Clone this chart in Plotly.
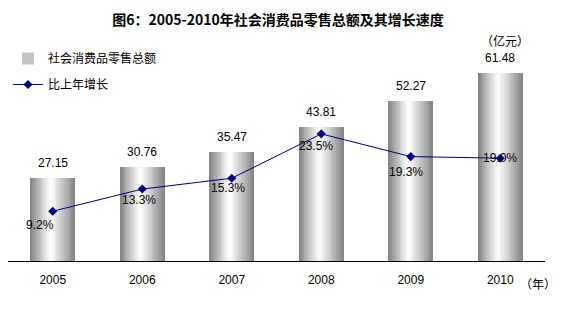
import plotly.graph_objects as go

years = ["2005", "2006", "2007", "2008", "2009", "2010"]
sales = [27.15, 30.76, 35.47, 43.81, 52.27, 61.48]
growth = [9.2, 13.3, 15.3, 23.5, 19.3, 19.0]
growth_labels = ["9.2%", "13.3%", "15.3%", "23.5%", "19.3%", "19.0%"]
# label offsets (pixels) relative to each point
label_dx = [-13, -3, -4, -5, -5, 0]
label_dy = [-14, -11, -10, -12, -15, 0]

title = "图6：2005-2010年社会消费品零售总额及其增长速度"
bar_name = "社会消费品零售总额"
line_name = "比上年增长"

FONT = "Arial, 'Liberation Sans', 'Noto Sans CJK SC', sans-serif"
CJK = "'Noto Sans CJK SC', sans-serif"

W, H = 564, 312
ml, mr, mt, mb = 8, 19, 40, 51
ph = H - mt - mb
pw = W - ml - mr
R1 = ph / 3.065
R2 = ph / 5.41

fig = go.Figure()

# cylinder-like gradient bars made from thin slices
N = 24
bw = 0.5
peak = 0.45
def shade(t):
    d = abs(t - peak) / (peak if t < peak else 1 - peak)
    lo = 0x80
    v = int(round(255 - (255 - lo) * d ** 1.1))
    return f"rgb({v},{v},{v})"

for i in range(N):
    t = (i + 0.5) / N
    fig.add_trace(go.Bar(
        x=years, y=sales, width=bw / N + 0.002, offset=-bw / 2 + i * bw / N,
        marker=dict(color=shade(t), line=dict(width=0)),
        name=bar_name, showlegend=(i == 5), legendgroup="a", legendrank=1,
        hoverinfo="skip", yaxis="y"))

fig.add_trace(go.Scatter(
    x=years, y=growth, mode="lines+markers", name=line_name,
    line=dict(color="#000080", width=1),
    marker=dict(symbol="diamond", size=7, color="#000080"),
    yaxis="y2", legendgroup="b", legendrank=2))

annotations = []
for k, v in enumerate(sales):
    annotations.append(dict(x=k, y=v, xref="x", yref="y", text=f"{v:.2f}",
                            showarrow=False, yshift=15, xanchor="center", yanchor="middle",
                            font=dict(size=12, family=FONT, color="black")))
for k, (g, lab, dx, dy) in enumerate(zip(growth, growth_labels, label_dx, label_dy)):
    annotations.append(dict(x=k, y=g, xref="x", yref="y2", text=lab,
                            showarrow=False, xshift=dx, yshift=dy, xanchor="center", yanchor="middle",
                            font=dict(size=12, family=FONT, color="black")))
annotations += [
    dict(text="（亿元）", xref="paper", yref="paper", x=(505 - ml) / pw,
         y=1.0, showarrow=False, xanchor="center", yanchor="middle",
         font=dict(family=CJK, size=12)),
    dict(text="（年）", xref="paper", yref="paper", x=(538 - ml) / pw,
         y=-(283 - (H - mb)) / ph, showarrow=False, xanchor="center", yanchor="middle",
         font=dict(family=CJK, size=12)),
]

fig.update_layout(
    width=W, height=H, margin=dict(l=ml, r=mr, t=mt, b=mb),
    paper_bgcolor="white", plot_bgcolor="white",
    barmode="overlay", bargap=0,
    font=dict(family=FONT, size=11, color="black"),
    title=dict(text=f"<b>{title}</b>", x=278 / W, xanchor="center", y=1 - 20 / H, yanchor="middle",
               font=dict(family=CJK, size=14, color="black")),
    xaxis=dict(type="category", showline=True, linecolor="black", linewidth=1,
               showgrid=False, ticks="", tickfont=dict(size=12, family=FONT),
               ticklabelstandoff=8, range=[-0.5, 5.5]),
    yaxis=dict(range=[0, R1], visible=False, showgrid=False),
    yaxis2=dict(range=[0, R2], overlaying="y", side="right", visible=False, showgrid=False),
    legend=dict(x=0.0, y=1 - 4 / ph, xanchor="left", yanchor="top",
                bgcolor="rgba(0,0,0,0)", font=dict(family=CJK, size=12),
                traceorder="grouped", tracegroupgap=7, itemwidth=30),
    showlegend=True,
    annotations=annotations,
)

fig.write_html("out.html")
